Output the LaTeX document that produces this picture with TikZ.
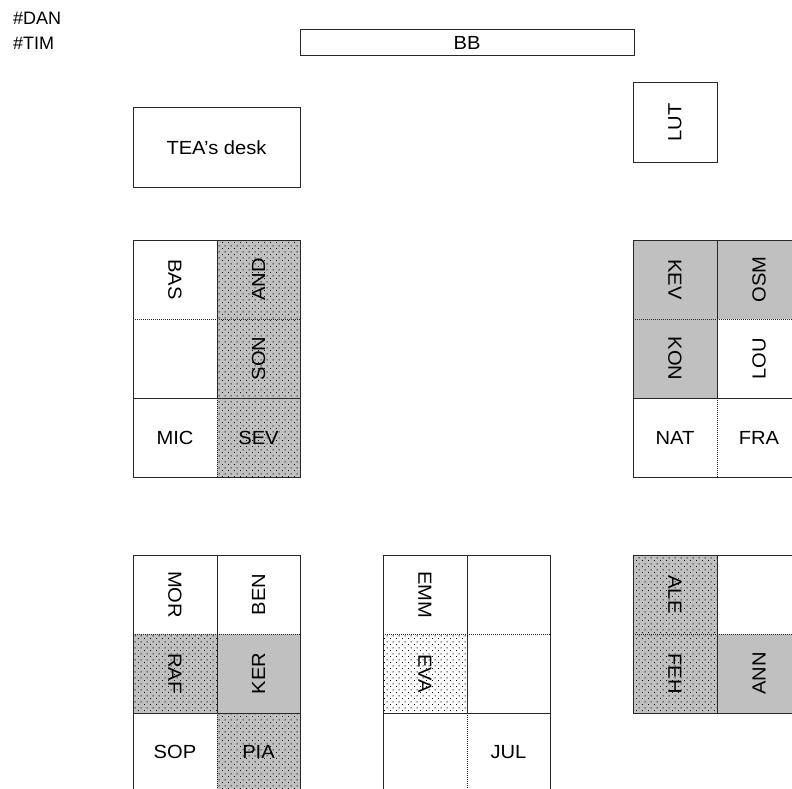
\documentclass[tikz,border=0pt]{standalone}
\usepackage{fontspec}
\setmainfont[FakeStretch=1.06]{Liberation Sans}
\newfontfamily\headfont{Liberation Sans}
\usetikzlibrary{patterns}
\definecolor{seatgray}{RGB}{192,192,192}
\definecolor{linecol}{RGB}{40,40,40}
\pgfdeclarepatternformonly{seatdots}{\pgfpointorigin}{\pgfpoint{6pt}{6pt}}{\pgfpoint{6pt}{6pt}}{%
  \pgfpathrectangle{\pgfpoint{0pt}{0pt}}{\pgfpoint{1.1pt}{1.1pt}}%
  \pgfpathrectangle{\pgfpoint{3pt}{3pt}}{\pgfpoint{1.1pt}{1.1pt}}%
  \pgfusepath{fill}}
\begin{document}
\begin{tikzpicture}[x=1pt,y=-1pt,
  font=\fontsize{19}{22}\selectfont,
  wall/.style={draw=linecol, line width=1pt},
  dotline/.style={draw=linecol, line width=1pt, dash pattern=on 1pt off 1pt},
  grayseat/.style={fill=seatgray},
  dotseat/.style={fill=seatgray, postaction={pattern=seatdots, pattern color=black}},
  whitedot/.style={pattern=seatdots, pattern color=black},
  lbl/.style={inner sep=0pt, text=black},
  head/.style={lbl, anchor=base west, font=\headfont\fontsize{18}{21}\selectfont},
  cw/.style={lbl, rotate=-90},
  ccw/.style={lbl, rotate=90}]
\fill[white] (0,0) rectangle (792,789);
\useasboundingbox (0,0) rectangle (792,789);
\clip (0,0) rectangle (792,789);

% header texts
\node[head] (dan) at (13,25) {\#DAN};
\node[head] (tim) at (13,50) {\#TIM};

% board, desk, LUT
\draw[wall] (300,30) rectangle (634,56);
\node[lbl] (bb) at (467,43) {BB};
\draw[wall] (133,108) rectangle (300,187);
\node[lbl] (desk) at (216.5,147.5) {TEA's desk};
\draw[wall] (633,83) rectangle (717,162);
\node[ccw] (lut) at (675,122.5) {LUT};

% group 1
\path[dotseat] (217,240) rectangle (300,477);
\draw[wall] (133,240) rectangle (300,477);
\draw[wall] (217,240) -- (217,398);
\draw[dotline] (217,398) -- (217,477);
\draw[dotline] (133,319) -- (300,319);
\draw[wall] (133,398) -- (300,398);
\node[cw] (bas) at (175,279.5) {BAS};
\node[ccw] (and) at (258.5,279.5) {AND};
\node[ccw] (son) at (258.5,358.5) {SON};
\node[lbl] (mic) at (175,437.5) {MIC};
\node[lbl] (sev) at (258.5,437.5) {SEV};

% group 2
\path[grayseat] (633,240) rectangle (801,319);
\path[grayseat] (633,319) rectangle (717,398);
\draw[wall] (633,240) rectangle (801,477);
\draw[wall] (717,240) -- (717,398);
\draw[dotline] (717,398) -- (717,477);
\draw[dotline] (633,319) -- (801,319);
\draw[wall] (633,398) -- (801,398);
\node[cw] (kev) at (675,279.5) {KEV};
\node[ccw] (osm) at (759,279.5) {OSM};
\node[cw] (kon) at (675,358.5) {KON};
\node[ccw] (lou) at (759,358.5) {LOU};
\node[lbl] (nat) at (675,437.5) {NAT};
\node[lbl] (fra) at (759,437.5) {FRA};

% group 3
\path[dotseat] (133,634) rectangle (217,713);
\path[grayseat] (217,634) rectangle (300,713);
\path[dotseat] (217,713) rectangle (300,800);
\draw[wall] (133,800) -- (133,555) -- (300,555) -- (300,800);
\draw[wall] (217,555) -- (217,713);
\draw[dotline] (217,713) -- (217,800);
\draw[dotline] (133,634) -- (300,634);
\draw[wall] (133,713) -- (300,713);
\node[cw] (mor) at (175,594.5) {MOR};
\node[ccw] (ben) at (258.5,594.5) {BEN};
\node[cw] (raf) at (175,673.5) {RAF};
\node[ccw] (ker) at (258.5,673.5) {KER};
\node[lbl] (sop) at (175,752) {SOP};
\node[lbl] (pia) at (258.5,752) {PIA};

% group 4
\path[whitedot] (383,634) rectangle (467,713);
\draw[wall] (383,800) -- (383,555) -- (550,555) -- (550,800);
\draw[wall] (467,555) -- (467,713);
\draw[dotline] (467,713) -- (467,800);
\draw[dotline] (383,634) -- (550,634);
\draw[wall] (383,713) -- (550,713);
\node[cw] (emm) at (425,594.5) {EMM};
\node[cw] (eva) at (425,673.5) {EVA};
\node[lbl] (jul) at (508.5,752) {JUL};

% group 5
\path[dotseat] (633,555) rectangle (717,713);
\path[grayseat] (717,634) rectangle (801,713);
\draw[wall] (633,555) rectangle (801,713);
\draw[wall] (717,555) -- (717,713);
\draw[dotline] (633,634) -- (801,634);
\node[cw] (ale) at (675,594.5) {ALE};
\node[cw] (feh) at (675,673.5) {FEH};
\node[ccw] (ann) at (759,673.5) {ANN};
\end{tikzpicture}
\end{document}
